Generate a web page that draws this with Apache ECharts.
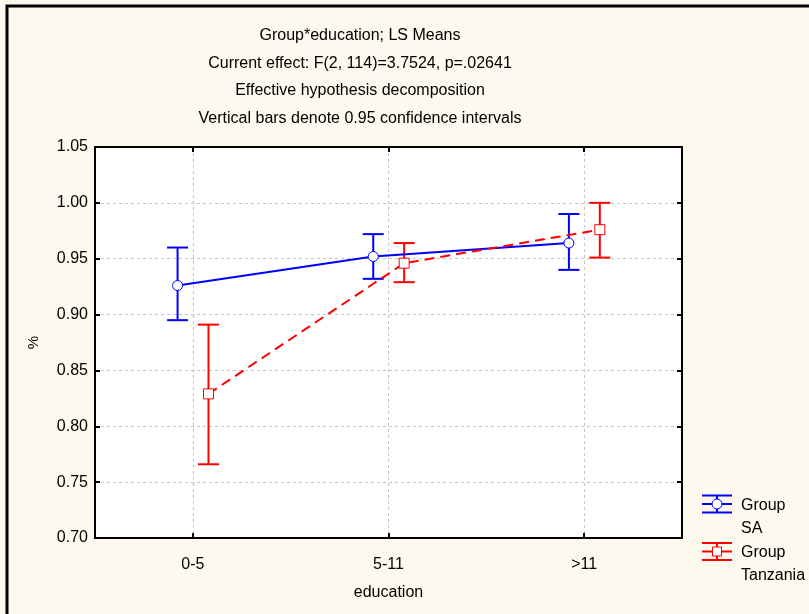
<!DOCTYPE html>
<html><head><meta charset="utf-8">
<script src="https://cdn.jsdelivr.net/npm/echarts@6/dist/echarts.min.js"></script>
<style>html,body{margin:0;padding:0;background:#fdf9ee}#c{width:809px;height:614px}</style>
</head><body><div id="c"></div><script>
const categories = ['0-5', '5-11', '>11'];
const saMean = [0.926, 0.952, 0.964];
const saLow  = [0.895, 0.932, 0.940];
const saHigh = [0.960, 0.972, 0.990];
const tzMean = [0.829, 0.946, 0.976];
const tzLow  = [0.766, 0.929, 0.951];
const tzHigh = [0.891, 0.964, 1.000];
const titleLines = [
  'Group*education; LS Means',
  'Current effect: F(2, 114)=3.7524, p=.02641',
  'Effective hypothesis decomposition',
  'Vertical bars denote 0.95 confidence intervals'
];
const seriesNames = ['Group\nSA', 'Group\nTanzania'];

const FONT = '"Liberation Sans", Arial, sans-serif';
const BLUE = '#0000ff', RED = '#ff0000';
const SA_OFF = -0.078, TZ_OFF = 0.08;

function errSeries(name, low, high, off, color) {
  return {
    type: 'custom', name: name, xAxisIndex: 2, yAxisIndex: 0, z: 2, silent: true,
    data: categories.map((c, i) => [i + off, low[i], high[i]]),
    encode: { x: 0, y: [1, 2] },
    renderItem: function (params, api) {
      const x = api.value(0);
      const lo = api.coord([x, api.value(1)]);
      const hi = api.coord([x, api.value(2)]);
      const hw = 10.5;
      const st = { stroke: color, lineWidth: 2 };
      return { type: 'group', children: [
        { type: 'line', shape: { x1: lo[0], y1: lo[1], x2: hi[0], y2: hi[1] }, style: st },
        { type: 'line', shape: { x1: lo[0] - hw, y1: lo[1], x2: lo[0] + hw, y2: lo[1] }, style: st },
        { type: 'line', shape: { x1: hi[0] - hw, y1: hi[1], x2: hi[0] + hw, y2: hi[1] }, style: st }
      ]};
    }
  };
}
function meanSeries(name, mean, off, color, symbol, dash) {
  return {
    type: 'line', name: name, xAxisIndex: 2, yAxisIndex: 0, z: 3,
    data: categories.map((c, i) => [i + off, mean[i]]),
    symbol: symbol, symbolSize: 10, showSymbol: true,
    itemStyle: { color: '#fff', borderColor: color, borderWidth: 1 },
    lineStyle: { color: color, width: 2, type: dash },
    emphasis: { disabled: true }
  };
}

const axisLineStyle = { show: true, onZero: false, lineStyle: { color: '#000', width: 2 } };
const tickStyle = { show: true, inside: true, length: 5, alignWithLabel: true, lineStyle: { color: '#000', width: 2 } };
const gridLine = { show: true, alignWithLabel: true, lineStyle: { color: '#c4c4c4', width: 1, type: [3, 3] } };

function legendItem(y0, color, marker, label) {
  const st = { stroke: color, lineWidth: 2 };
  const cx = 717, top = y0, mid = y0 + 8.5, bot = y0 + 17;
  const mk = marker === 'circle'
    ? { type: 'circle', shape: { cx: cx, cy: mid, r: 5 }, style: { fill: '#fff', stroke: color, lineWidth: 1 } }
    : { type: 'rect', shape: { x: cx - 4.5, y: mid - 4.5, width: 9, height: 9 }, style: { fill: '#fff', stroke: color, lineWidth: 1 } };
  return [
    { type: 'line', shape: { x1: 702, y1: top, x2: 732, y2: top }, style: st },
    { type: 'line', shape: { x1: 702, y1: mid, x2: 732, y2: mid }, style: st },
    { type: 'line', shape: { x1: 702, y1: bot, x2: 732, y2: bot }, style: st },
    { type: 'line', shape: { x1: cx, y1: top, x2: cx, y2: bot }, style: st },
    mk,
    { type: 'text', x: 741, y: y0 - 1.5, style: { text: label, fill: '#000', font: '16px ' + FONT, lineHeight: 23, verticalAlign: 'top', align: 'left' } }
  ];
}

const chart = echarts.init(document.getElementById('c'), null, { renderer: 'canvas' });
chart.setOption({
  animation: false,
  backgroundColor: '#fdf9ee',
  title: {
    text: titleLines.join('\n'), left: 355, top: 17, textAlign: 'center',
    textStyle: { fontFamily: FONT, fontSize: 16, fontWeight: 'normal', color: '#000', lineHeight: 27.5 }
  },
  grid: { left: 95, top: 147, width: 587, height: 391, show: true, backgroundColor: '#fff', borderWidth: 0, containLabel: false, outerBoundsMode: 'none' },
  xAxis: [
    { type: 'category', position: 'bottom', data: categories, boundaryGap: true,
      axisLine: axisLineStyle, axisTick: tickStyle, splitLine: gridLine,
      axisLabel: { color: '#000', fontSize: 16, fontFamily: FONT, margin: 19 },
      name: 'education', nameLocation: 'middle', nameGap: 47,
      nameTextStyle: { color: '#000', fontSize: 16, fontFamily: FONT } },
    { type: 'category', position: 'top', data: categories, boundaryGap: true,
      axisLine: axisLineStyle, axisTick: tickStyle, axisLabel: { show: false }, splitLine: { show: false } },
    { type: 'value', min: -0.5, max: 2.5, show: false }
  ],
  yAxis: [
    { type: 'value', position: 'left', min: 0.70, max: 1.05, interval: 0.05,
      axisLine: axisLineStyle, axisTick: tickStyle, splitLine: gridLine,
      axisLabel: { color: '#000', fontSize: 16, fontFamily: FONT, margin: 7, formatter: v => v.toFixed(2) },
      name: '%', nameLocation: 'middle', nameGap: 54,
      nameTextStyle: { color: '#000', fontSize: 15, fontFamily: FONT } },
    { type: 'value', position: 'right', min: 0.70, max: 1.05, interval: 0.05,
      axisLine: axisLineStyle, axisTick: tickStyle,
      axisLabel: { show: false }, splitLine: { show: false } }
  ],
  series: [
    errSeries(seriesNames[0], saLow, saHigh, SA_OFF, BLUE),
    errSeries(seriesNames[1], tzLow, tzHigh, TZ_OFF, RED),
    meanSeries(seriesNames[0], saMean, SA_OFF, BLUE, 'circle', 'solid'),
    meanSeries(seriesNames[1], tzMean, TZ_OFF, RED, 'rect', [10, 6])
  ],
  graphic: [
    { type: 'rect', shape: { x: 7, y: 6, width: 900, height: 700 }, style: { fill: 'none', stroke: '#000', lineWidth: 3 }, silent: true },
    ...legendItem(495.5, BLUE, 'circle', seriesNames[0]),
    ...legendItem(543, RED, 'rect', seriesNames[1])
  ]
});
</script></body></html>
